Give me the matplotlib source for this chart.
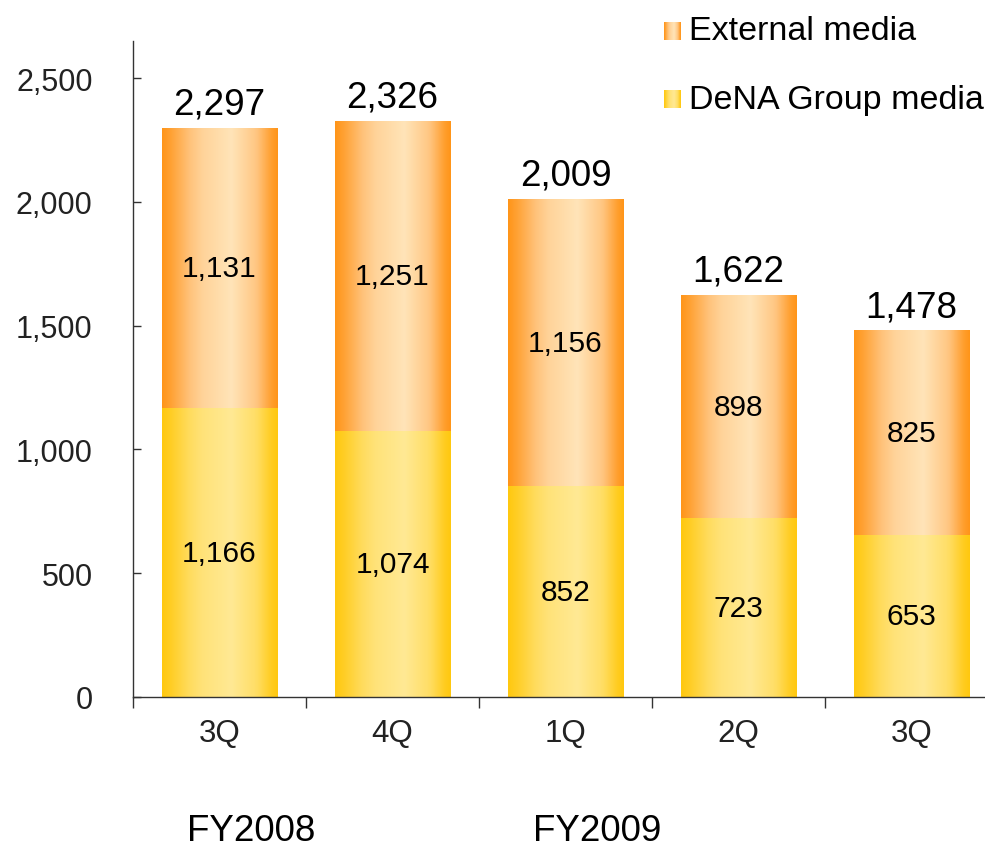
import numpy as np
import matplotlib
matplotlib.use('Agg')
import matplotlib.pyplot as plt
from matplotlib.colors import LinearSegmentedColormap
from matplotlib.transforms import blended_transform_factory

plt.rcParams['font.family'] = ['Liberation Sans', 'DejaVu Sans']

quarters = ['3Q', '4Q', '1Q', '2Q', '3Q']
years = ['FY2008', 'FY2009']
year_start = [0, 2]
dena = [1166, 1074, 852, 723, 653]
external = [1131, 1251, 1156, 898, 825]
totals = [2297, 2326, 2009, 1622, 1478]

orange = LinearSegmentedColormap.from_list('orange', ['#ff9519', '#ffc27a', '#ffe4b8'])
yellow = LinearSegmentedColormap.from_list('yellow', ['#ffc80f', '#ffdc5e', '#ffe994'])

# horizontal shading: dark edges, pale band a little right of centre
def shading(n):
    t = np.linspace(0, 1, n)
    s = np.interp(t, [0, 0.08, 0.35, 0.6, 0.8, 0.95, 1], [0, 0.15, 0.75, 1, 0.6, 0.1, 0])
    return s[np.newaxis, :]

grad = shading(200)

fig = plt.figure(figsize=(9.85, 8.54), dpi=100)
ax = fig.add_axes([133 / 985, 156 / 854, 865 / 985, 656 / 854])

width = 0.665
for i in range(len(quarters)):
    xc = i + 0.5
    x0, x1 = xc - width / 2, xc + width / 2
    ax.imshow(grad, extent=(x0, x1, 0, dena[i]), aspect='auto', cmap=yellow,
              vmin=0, vmax=1, interpolation='bilinear', zorder=2)
    top = dena[i] + external[i]
    ax.imshow(grad, extent=(x0, x1, dena[i], top), aspect='auto', cmap=orange,
              vmin=0, vmax=1, interpolation='bilinear', zorder=2)
    ax.text(xc, dena[i] / 2, f'{dena[i]:,}', ha='center', va='center', fontsize=21.5, zorder=3)
    ax.text(xc, dena[i] + external[i] / 2, f'{external[i]:,}', ha='center', va='center',
            fontsize=21.5, zorder=3)
    ax.annotate(f'{totals[i]:,}', (xc, top), xytext=(0, 5), textcoords='offset points',
                ha='center', va='bottom', fontsize=26.5, zorder=3)

ax.set_xlim(0, 5)
ax.set_ylim(0, 2650)

for s in ['top', 'right']:
    ax.spines[s].set_visible(False)
for s in ['left', 'bottom']:
    ax.spines[s].set_color('#333333')
    ax.spines[s].set_linewidth(1.0)

ax.set_yticks(np.arange(0, 2501, 500))
ax.set_yticklabels([f'{v:,}' for v in range(0, 2501, 500)], fontsize=22, color='#222222')
ax.tick_params(axis='y', direction='in', length=6, width=1, color='#333333', pad=29)

ax.set_xticks(np.arange(0, 6))
ax.set_xticklabels([])
ax.set_xticks(np.arange(len(quarters)) + 0.5, minor=True)
ax.set_xticklabels(quarters, minor=True, fontsize=22.5, color='#222222')
ax.tick_params(axis='x', which='major', direction='out', length=8, width=1, color='#333333')
ax.tick_params(axis='x', which='minor', length=0, pad=15)

trans = blended_transform_factory(ax.transData, fig.transFigure)
for yr, s in zip(years, year_start):
    ax.text(s + 0.685, 22 / 854, yr, transform=trans, ha='center', va='center',
            fontsize=26.5, clip_on=False)

# legend with shaded swatches
legend_items = [('External media', orange, 32), ('DeNA Group media', yellow, 100)]
sw_grad = shading(40)
for label, cmap, ypix in legend_items:
    sax = fig.add_axes([664 / 985, (854 - ypix - 9) / 854, 17 / 985, 18 / 854])
    sax.imshow(sw_grad, aspect='auto', cmap=cmap, vmin=0, vmax=1, interpolation='bilinear')
    sax.axis('off')
    fig.text(689 / 985, (854 - ypix) / 854, label, ha='left', va='center', fontsize=24.5)

fig.savefig('out.png', dpi=100)
